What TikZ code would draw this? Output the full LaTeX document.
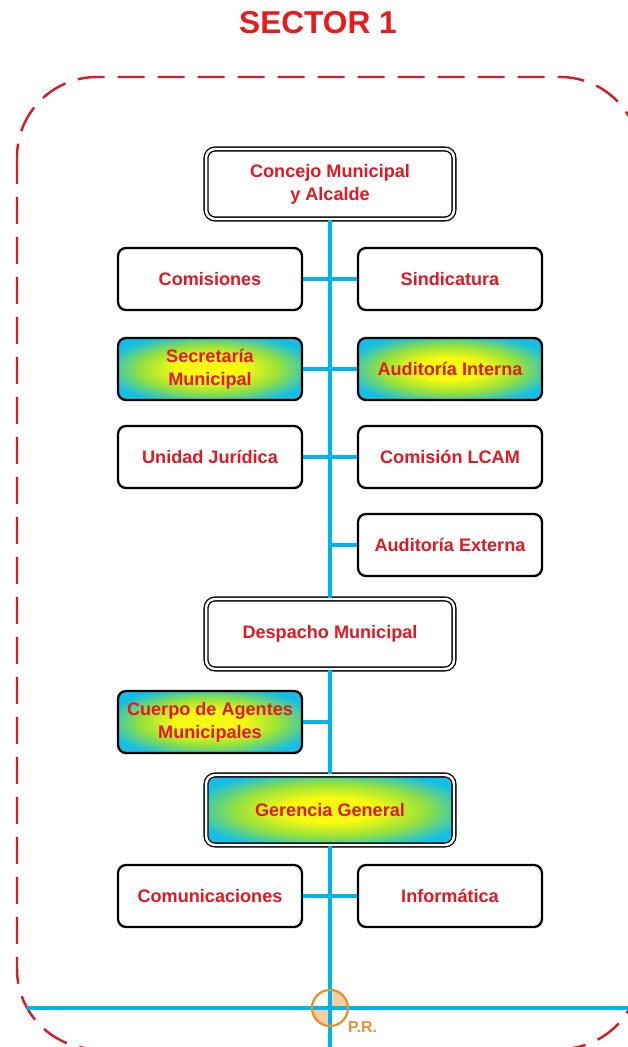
\documentclass[tikz,border=0pt]{standalone}
\usepackage{fontspec}
\setmainfont{Liberation Sans}
\usetikzlibrary{positioning}
\definecolor{LineBlue}{RGB}{0, 180, 235}
\definecolor{TextRed}{RGB}{225, 25, 35}
\definecolor{BorderRed}{RGB}{215, 30, 40}
\definecolor{PROrange}{RGB}{230, 145, 50}
\definecolor{PRFill}{RGB}{247, 205, 162}
\definecolor{GradCyan}{RGB}{20, 190, 230}
\definecolor{GradGreen}{RGB}{150, 225, 60}
\definecolor{GradYellow}{RGB}{248, 250, 15}
\pgfdeclareradialshading{boxglow}{\pgfpoint{0bp}{0bp}}{%
    color(0bp)=(GradYellow); color(9bp)=(GradYellow); color(19bp)=(GradGreen);
    color(29bp)=(GradCyan); color(50bp)=(GradCyan)}
\begin{document}
\begin{tikzpicture}[x=0.02cm, y=-0.02cm,
        every node/.style={font=\fontsize{10.3}{13}\selectfont\bfseries, text=TextRed, align=center},
        sbox/.style={draw=black, line width=1.3pt, rounded corners=0.16cm, fill=white,
            minimum width=3.68cm, minimum height=1.24cm, inner sep=2pt},
        dbox/.style={draw=black, line width=0.75pt, double=white, double distance=1.4pt,
            rounded corners=0.18cm, fill=white, minimum width=4.96cm, minimum height=1.40cm},
        grad/.style={shading=boxglow},
        trunk/.style={LineBlue, line width=2.3pt},
        borderline/.style={BorderRed, line width=1.4pt, dash pattern=on 0.54cm off 0.26cm}]
        \useasboundingbox (0,0) rectangle (628,1047);

        % Title and sector border
        \node[font=\fontsize{18}{20}\selectfont\bfseries, text={rgb,255:red,235;green,25;blue,25}] (title) at (318,23) {SECTOR 1};
        \draw[borderline, rounded corners=1.6cm] (17,77) rectangle (640,1049);

        % Top level
        \node[dbox] (concejo) at (330,184) {Concejo Municipal\\y Alcalde};
        \node[sbox] (comis) at (210,279) {Comisiones};
        \node[sbox] (sindic) at (450,279) {Sindicatura};
        \node[sbox, grad] (secret) at (210,369) {Secretaría\\Municipal};
        \node[sbox, grad] (audint) at (450,369) {Auditoría Interna};
        \node[sbox] (unidad) at (210,457) {Unidad Jurídica};
        \node[sbox] (lcam) at (450,457) {Comisión LCAM};
        \node[sbox] (audext) at (450,545) {Auditoría Externa};

        % Despacho
        \node[dbox] (despacho) at (330,634) {Despacho Municipal};
        \node[sbox, grad] (cuerpo) at (210,722) {Cuerpo de Agentes\\Municipales};

        % Gerencia
        \node[dbox, grad] (gerencia) at (330,810) {Gerencia General};
        \node[sbox] (comunic) at (210,896) {Comunicaciones};
        \node[sbox] (inform) at (450,896) {Informática};

        % Reference point
        \coordinate (bottom) at (330,1047);
        \coordinate (prleft) at (27,1008);
        \coordinate (prright) at (628,1008);
        \node[circle, minimum size=0.72cm, inner sep=0pt, outer sep=0pt] (pr) at (330,1008) {};
        \node[font=\fontsize{9}{10}\selectfont\bfseries, text=PROrange, anchor=west] (prlabel) at (342,1027) {P.R.};

        % Connectors
        \draw[trunk] (concejo.south) -- (despacho.north);
        \draw[trunk] (despacho.south) -- (gerencia.north);
        \draw[trunk] (comis.east) -- (sindic.west);
        \draw[trunk] (secret.east) -- (audint.west);
        \draw[trunk] (unidad.east) -- (lcam.west);
        \draw[trunk] (audext.west) -- (audext.west -| concejo.south);
        \draw[trunk] (cuerpo.east) -- (cuerpo.east -| despacho.south);
        \draw[trunk] (comunic.east) -- (inform.west);
        \fill[PRFill] (pr.center) -- (pr.east) arc[start angle=0, end angle=90, radius=0.36cm] -- cycle;
        \fill[PRFill] (pr.center) -- (pr.west) arc[start angle=180, end angle=270, radius=0.36cm] -- cycle;
        \draw[trunk] (gerencia.south) -- (bottom);
        \draw[trunk] (prleft) -- (prright);
        \draw[PROrange, line width=1.3pt] (pr.center) circle[radius=0.36cm];
    \end{tikzpicture}
\end{document}
